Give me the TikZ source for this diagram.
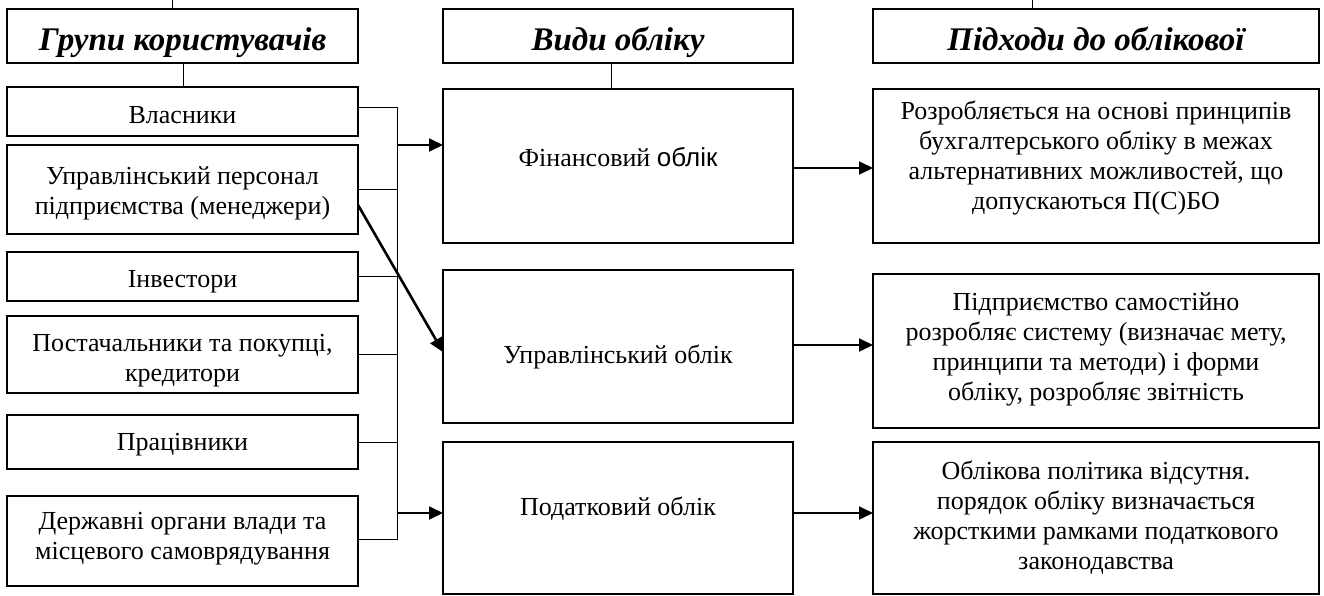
\documentclass[tikz,border=0pt]{standalone}
\usepackage{fontspec}
\setmainfont{Liberation Serif}
\newfontfamily\sansf{Liberation Sans}
\usetikzlibrary{arrows.meta,calc}
\begin{document}
\begin{tikzpicture}[x=1pt,y=-1pt,
  box/.style={draw,line width=1.3pt,inner sep=0pt,outer sep=0pt},
  txt/.style={align=center,inner sep=0pt,font=\fontsize{26}{30}\selectfont},
  hdr/.style={box,text height=30pt,text depth=2pt,font=\fontsize{33}{38}\selectfont\bfseries\itshape},
  conn/.style={line width=1pt},
  arr/.style={line width=1.8pt,-{Triangle[length=14pt,width=13pt]}},
  darr/.style={line width=2.6pt,-{Triangle[length=14pt,width=13pt]}}]
\useasboundingbox (0,0) rectangle (1324,595);
% headers
\node[hdr,minimum width=351pt,minimum height=54pt] (hg1) at (182.5,36) {Групи користувачів};
\node[hdr,minimum width=350pt,minimum height=54pt] (hg2) at (618,36) {Види обліку};
\node[hdr,minimum width=446pt,minimum height=54pt] (hg3) at (1096,36) {Підходи до облікової};
\coordinate (t1) at (172,0);
\coordinate (t3) at (1032,0);
% users
\node[box,minimum width=351pt,minimum height=49pt] (u1) at (182.5,111.5) {};
\node[txt] at ([yshift=-4pt]u1.center) {Власники};
\node[box,minimum width=351pt,minimum height=89pt] (u2) at (182.5,189.5) {};
\node[txt] at ([yshift=-4pt]u2.center) {Управлінський персонал\\підприємства (менеджери)};
\node[box,minimum width=351pt,minimum height=49pt] (u3) at (182.5,276.5) {};
\node[txt] at ([yshift=-5pt]u3.center) {Інвестори};
\node[box,minimum width=351pt,minimum height=77pt] (u4) at (182.5,354.5) {};
\node[txt] at ([yshift=-6pt]u4.center) {Постачальники та покупці,\\кредитори};
\node[box,minimum width=351pt,minimum height=54pt] (u5) at (182.5,442) {};
\node[txt] at ([yshift=-3pt]u5.center) {Працівники};
\node[box,minimum width=351pt,minimum height=90pt] (u6) at (182.5,541) {};
\node[txt] at ([yshift=2pt]u6.center) {Державні органи влади та\\місцевого самоврядування};
% kinds
\node[box,minimum width=350pt,minimum height=154pt] (v1) at (618,166) {};
\node[txt] at ([yshift=9pt]v1.center) {Фінансовий {\sansf облік}};
\node[box,minimum width=350pt,minimum height=153pt] (v2) at (618,346.5) {};
\node[txt] at ([yshift=-10pt]v2.center) {Управлінський облік};
\node[box,minimum width=350pt,minimum height=152pt] (v3) at (618,518) {};
\node[txt] at ([yshift=9pt]v3.center) {Податковий облік};
% approaches
\node[box,minimum width=446pt,minimum height=154pt] (r1) at (1096,166) {};
\node[txt] at ([yshift=8pt]r1.center) {Розробляється на основі принципів\\бухгалтерського обліку в межах\\альтернативних можливостей, що\\допускаються П(С)БО};
\node[box,minimum width=446pt,minimum height=154pt] (r2) at (1096,351) {};
\node[txt] at ([yshift=2pt]r2.center) {Підприємство самостійно\\розробляє систему (визначає мету,\\принципи та методи) і форми\\обліку, розробляє звітність};
\node[box,minimum width=446pt,minimum height=152pt] (r3) at (1096,518) {};
\node[txt] at ([yshift=0pt]r3.center) {Облікова політика відсутня.\\порядок обліку визначається\\жорсткими рамками податкового\\законодавства};
% connectors
\draw[conn] (t1) -- (t1 |- hg1.north);
\draw[conn] (t3) -- (t3 |- hg3.north);
\draw[conn] (hg1.south -| 183,0) -- (u1.north -| 183,0);
\draw[conn] (hg2.south -| 611,0) -- (v1.north -| 611,0);
\coordinate (b1) at (397,107);
\coordinate (b6) at (397,539);
\draw[conn] (u1.east |- b1) -- (b1) -- (b6) -- (u6.east |- b6);
\draw[conn] (u2.east) -- (u2.east -| b1);
\draw[conn] (u3.east) -- (u3.east -| b1);
\draw[conn] (u4.east) -- (u4.east -| b1);
\draw[conn] (u5.east) -- (u5.east -| b1);
\draw[arr] (397,145) -- (v1.west |- 0,145);
\draw[arr] (397,513) -- (v3.west |- 0,513);
\draw[darr] ([yshift=-60pt]u2.north east) -- ([yshift=-5.5pt]v2.west);
\draw[arr] (v1.east |- 0,168) -- (r1.west |- 0,168);
\draw[arr] (v2.east |- 0,345) -- (r2.west |- 0,345);
\draw[arr] (v3.east |- 0,513) -- (r3.west |- 0,513);
\end{tikzpicture}
\end{document}
